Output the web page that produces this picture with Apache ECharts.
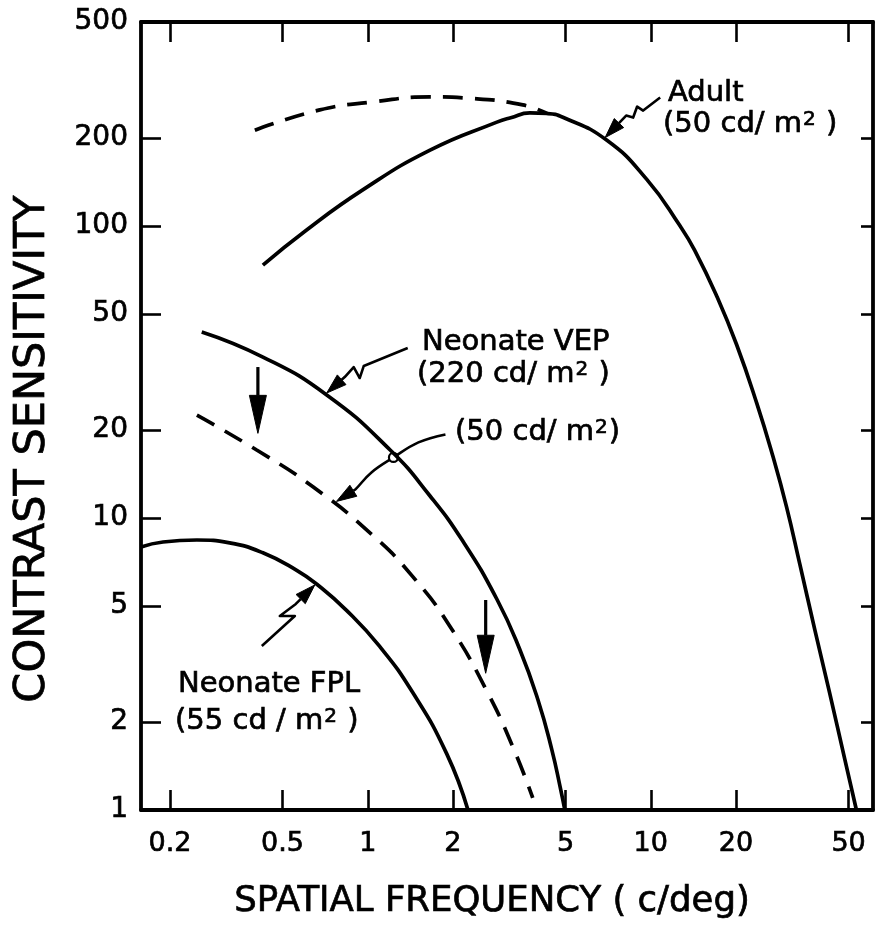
<!DOCTYPE html>
<html>
<head>
<meta charset="utf-8">
<script src="https://cdn.jsdelivr.net/npm/echarts@6/dist/echarts.min.js"></script>
<style>
  html, body { margin: 0; padding: 0; background: #fff; }
  #chart { width: 878px; height: 926px; }
</style>
</head>
<body>
<div id="chart"></div>
<script>
// Axis ticks (log scales, 1-2-5 steps)
const xTicks = [0.2, 0.5, 1, 2, 5, 10, 20, 50];
const xTickLabels = ['0.2', '0.5', '1', '2', '5', '10', '20', '50'];
const yLabelValues = [1, 2, 5, 10, 20, 50, 100, 200, 500];
const yTickLabels = ['1', '2', '5', '10', '20', '50', '100', '200', '500'];
const yTickMarks = [2, 5, 10, 20, 50, 100, 200];

// Adult, 50 cd/m² (solid)
const adultFreq = [0.426, 0.6, 0.96, 1.66, 2.86, 3.2, 3.74, 4.3, 4.89, 6.98, 9.68, 12.7, 14.3, 17.2, 20.1, 23.7, 27.0, 30.2, 33.6, 38.0, 42.9, 48.5, 53.3];
const adultSens = [73.5, 96, 133, 182, 227, 235, 244, 243, 236, 197, 144.5, 100, 82.6, 56.9, 39.3, 24.7, 16.3, 10.9, 6.98, 4.14, 2.51, 1.49, 1];

// Adult, low-frequency branch (dashed)
const adultDashFreq = [0.399, 0.677, 1.04, 1.66, 2.29, 3.53, 4.3];
const adultDashSens = [213, 250, 266, 277, 274, 260, 243];

// Neonate VEP, 220 cd/m² (solid)
const vepFreq = [0.259, 0.426, 0.716, 1.20, 1.66, 2.17, 2.86, 3.44, 3.99, 4.47, 4.81, 4.97];
const vepSens = [43.4, 35.6, 26.4, 17.1, 11.9, 8.32, 5.27, 3.56, 2.39, 1.61, 1.17, 1];

// Neonate VEP, 50 cd/m² (dashed)
const vep50Freq = [0.249, 0.405, 0.640, 1.033, 1.442, 1.950, 2.655, 3.304, 3.828];
const vep50Sens = [22.5, 17.1, 12.8, 8.79, 6.30, 4.26, 2.52, 1.59, 1.10];

// Neonate FPL, 55 cd/m² (solid)
const fplFreq = [0.158, 0.189, 0.249, 0.325, 0.426, 0.561, 0.661, 0.843, 1.10, 1.44, 1.90, 2.26];
const fplSens = [7.96, 8.28, 8.41, 8.22, 7.60, 6.62, 5.93, 4.82, 3.64, 2.53, 1.56, 1];

// Downward shift arrows: frequency, start and end sensitivity
const shiftArrowFreq = [0.409, 2.61];
const shiftArrowFrom = [32.9, 5.24];
const shiftArrowTo = [19.5, 2.94];

const FONT = '"DejaVu Sans", "Liberation Sans", sans-serif';
const INK = '#000';

const pairs = (xs, ys) => xs.map((x, i) => [x, ys[i]]);
const labelFor = (ticks, labels) => (v) => {
  for (let i = 0; i < ticks.length; i++) {
    if (Math.abs(Math.log10(v) - Math.log10(ticks[i])) < 1e-6) return labels[i];
  }
  return '';
};

const axisLine = { show: true, onZero: false, lineStyle: { color: INK, width: 3.8 } };
const tickStyle = { color: INK, width: 2.6 };

function curve(name, xs, ys, dashed) {
  return {
    type: 'line',
    name: name,
    data: pairs(xs, ys),
    smooth: 0.5,
    symbol: 'none',
    showSymbol: false,
    silent: true,
    lineStyle: { color: INK, width: 3.7, type: dashed ? [20, 12] : 'solid', cap: 'butt' }
  };
}

const chart = echarts.init(document.getElementById('chart'), null, { renderer: 'canvas' });

const tickLabelStyle = {
  color: INK, fontFamily: FONT, textBorderColor: INK, textBorderWidth: 0.7
};

chart.setOption({
  animation: false,
  backgroundColor: '#fff',
  grid: { left: 141, right: 5, top: 22, bottom: 116 },
  xAxis: [
    {
      type: 'log', position: 'bottom', min: 0.158, max: 61,
      axisLine: axisLine,
      axisTick: { show: true, inside: true, length: 20, lineStyle: tickStyle, customValues: xTicks },
      axisLabel: Object.assign({
        show: true, customValues: xTicks, formatter: labelFor(xTicks, xTickLabels),
        fontSize: 27, margin: 20
      }, tickLabelStyle),
      splitLine: { show: false }, minorTick: { show: false }
    },
    {
      type: 'log', position: 'top', min: 0.158, max: 61,
      axisLine: axisLine,
      axisTick: { show: true, inside: true, length: 20, lineStyle: tickStyle, customValues: xTicks },
      axisLabel: { show: false },
      splitLine: { show: false }, minorTick: { show: false }
    }
  ],
  yAxis: [
    {
      type: 'log', position: 'left', min: 1, max: 500,
      axisLine: axisLine,
      axisTick: { show: true, inside: true, length: 20, lineStyle: tickStyle, customValues: yTickMarks },
      axisLabel: Object.assign({
        show: true, customValues: yLabelValues, formatter: labelFor(yLabelValues, yTickLabels),
        fontSize: 28, margin: 13
      }, tickLabelStyle),
      splitLine: { show: false }, minorTick: { show: false }
    },
    {
      type: 'log', position: 'right', min: 1, max: 500,
      axisLine: axisLine,
      axisTick: { show: true, inside: true, length: 12, lineStyle: tickStyle, customValues: yTickMarks },
      axisLabel: { show: false },
      splitLine: { show: false }, minorTick: { show: false }
    }
  ],
  series: [
    curve('Adult (50 cd/m²)', adultFreq, adultSens, false),
    curve('Adult (50 cd/m²) low frequency', adultDashFreq, adultDashSens, true),
    curve('Neonate VEP (220 cd/m²)', vepFreq, vepSens, false),
    curve('Neonate VEP (50 cd/m²)', vep50Freq, vep50Sens, true),
    curve('Neonate FPL (55 cd/m²)', fplFreq, fplSens, false)
  ]
});

// ---- annotations: pointers, shift arrows, labels, axis titles ----
const toPx = (f, s) => chart.convertToPixel({ seriesIndex: 0 }, [f, s]);

function arrowHead(tip, from, len, half) {
  const dx = tip[0] - from[0], dy = tip[1] - from[1];
  const d = Math.hypot(dx, dy) || 1;
  const ux = dx / d, uy = dy / d;
  const bx = tip[0] - ux * len, by = tip[1] - uy * len;
  return {
    base: [bx, by],
    points: [[tip[0], tip[1]], [bx - uy * half, by + ux * half], [bx + uy * half, by - ux * half]]
  };
}

// Pointer leaders: tip on the curve (data units), shape as pixel offsets from the tip
const pointers = [
  { tip: [6.9, 201], path: [[55, -40], [38, -27], [32, -31], [28, -20], [21, -22]], smooth: 0 },
  { tip: [0.716, 26.8], path: [[81, -45], [37, -27], [33, -15], [27, -26], [18, -16]], smooth: 0 },
  { tip: [0.775, 11.4], path: [[109, -67], [82, -59], [57, -44], [35, -29], [19, -12]], smooth: 0.4, hop: [57, -44] },
  { tip: [0.65, 5.9], path: [[-53, 61], [-20, 31], [-35, 31], [-19, 19]], smooth: 0 }
];

const graphics = [];

pointers.forEach((p) => {
  const t = toPx(p.tip[0], p.tip[1]);
  const pts = p.path.map(o => [t[0] + o[0], t[1] + o[1]]);
  const head = arrowHead(t, pts[pts.length - 1], 20, 6.5);
  graphics.push({
    type: 'polyline', silent: true,
    shape: { points: pts.concat([head.base]), smooth: p.smooth },
    style: { stroke: INK, lineWidth: 2.6, fill: null, lineJoin: 'round' }
  });
  graphics.push({
    type: 'polygon', silent: true,
    shape: { points: head.points },
    style: { fill: INK, stroke: INK, lineWidth: 1 }
  });
  if (p.hop) {
    graphics.push({
      type: 'circle', silent: true,
      shape: { cx: t[0] + p.hop[0], cy: t[1] + p.hop[1], r: 4.5 },
      style: { fill: '#fff', stroke: INK, lineWidth: 2.2 }
    });
  }
});

shiftArrowFreq.forEach((f, i) => {
  const a = toPx(f, shiftArrowFrom[i]);
  const b = toPx(f, shiftArrowTo[i]);
  const head = arrowHead(b, a, 38, 8.5);
  graphics.push({
    type: 'line', silent: true,
    shape: { x1: a[0], y1: a[1], x2: head.base[0], y2: head.base[1] },
    style: { stroke: INK, lineWidth: 3.2 }
  });
  graphics.push({
    type: 'polygon', silent: true,
    shape: { points: head.points },
    style: { fill: INK, stroke: INK, lineWidth: 1 }
  });
});

const textLook = { fill: INK, fontFamily: FONT, stroke: INK, lineWidth: 0.7 };

function label(text, x, y) {
  graphics.push({
    type: 'text', silent: true, x: x, y: y,
    style: Object.assign({
      text: text, fontSize: 29, textAlign: 'left', textVerticalAlign: 'middle',
      rich: { s: { fontSize: 20, verticalAlign: 'top', fontFamily: FONT, fill: INK, padding: [0, 1, 0, 1] } }
    }, textLook)
  });
}
label('Adult', 668, 93);
label('(50 cd/ m{s|2} )', 663, 124);
label('Neonate VEP', 422, 342);
label('(220 cd/ m{s|2} )', 417, 374);
label('(50 cd/ m{s|2})', 455, 432);
label('Neonate FPL', 178, 684);
label('(55 cd / m{s|2} )', 175, 721);

graphics.push({
  type: 'text', silent: true, x: 33, y: 449, rotation: Math.PI / 2,
  style: Object.assign({ text: 'CONTRAST SENSITIVITY', fontSize: 43, textAlign: 'center', textVerticalAlign: 'middle' }, textLook)
});
graphics.push({
  type: 'text', silent: true, x: 492, y: 902,
  style: Object.assign({ text: 'SPATIAL FREQUENCY ( c/deg)', fontSize: 35.5, textAlign: 'center', textVerticalAlign: 'middle' }, textLook)
});

chart.setOption({ graphic: graphics });
</script>
</body>
</html>
